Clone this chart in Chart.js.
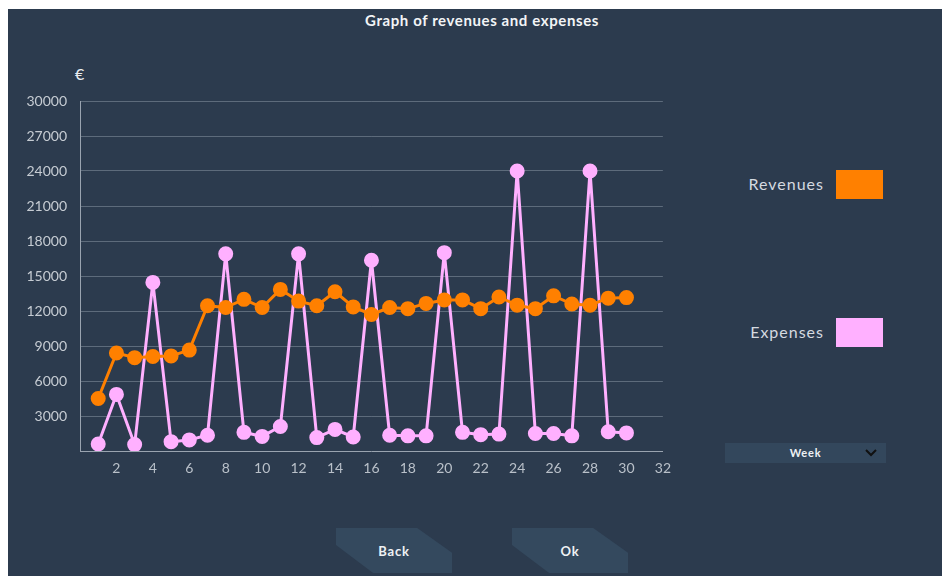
<!DOCTYPE html>
<html>
<head>
<meta charset="utf-8">
<script src="https://cdn.jsdelivr.net/npm/chart.js@4.4.1/dist/chart.umd.min.js"></script>
<style>
    html, body { margin: 0; padding: 0; background: #fff; }
    body { width: 942px; height: 576px; position: relative; overflow: hidden; font-family: Lato, "Noto Sans", sans-serif; }
    .panel { position: absolute; left: 8px; top: 9px; width: 934px; height: 567px; background: #2c3b4e; }
    .title { position: absolute; left: 0; width: 964px; top: 11px; text-align: center; color: #f2f4f6; font-size: 15px; font-weight: bold; letter-spacing: 0.6px; }
    .euro { position: absolute; left: 75px; top: 64px; color: #e8ecf0; font-size: 16px; }
    #box { position: absolute; left: 20px; top: 60px; width: 660px; height: 430px; }
    .leg-label { position: absolute; right: 118px; color: #d5dae0; font-size: 16px; letter-spacing: 1px; }
    .leg-box { position: absolute; left: 836px; width: 47px; height: 29px; }
    .week { position: absolute; left: 725px; top: 443px; width: 161px; height: 20px; background: #33475c; color: #eef1f4; font-size: 11px; font-weight: bold; letter-spacing: 0.8px; line-height: 20px; text-align: center; }
    .week svg { position: absolute; right: 9px; top: 6px; }
    .btn { position: absolute; top: 528px; width: 116px; height: 45px; background: #34495e; color: #eef1f4; font-size: 13px; font-weight: bold; letter-spacing: 0.8px; line-height: 46px; text-align: center;
           clip-path: polygon(0 0, 70% 0, 100% 55%, 100% 100%, 32% 100%, 0 38%); }
</style>
</head>
<body>
<div class="panel"></div>
<div class="title">Graph of revenues and expenses</div>
<div class="euro">€</div>
<div id="box"><canvas id="myChart"></canvas></div>

<div class="leg-label" style="top:174px">Revenues</div>
<div class="leg-box" style="top:170px; background:#ff8000"></div>
<div class="leg-label" style="top:322px">Expenses</div>
<div class="leg-box" style="top:318px; background:#ffb0ff"></div>

<div class="week">Week
    <svg width="12" height="8" viewBox="0 0 12 8"><path d="M1 1 L6 6 L11 1" stroke="#111" stroke-width="2" fill="none"/></svg>
</div>

<div class="btn" style="left:336px">Back</div>
<div class="btn" style="left:512px">Ok</div>

<script>
// --- DATI ---
const giorni = [1, 2, 3, 4, 5, 6, 7, 8, 9, 10, 11, 12, 13, 14, 15, 16, 17, 18, 19, 20, 21, 22, 23, 24, 25, 26, 27, 28, 29, 30];
const revenues = [4500, 8400, 8000, 8100, 8150, 8650, 12450, 12300, 13000, 12300, 13850, 12850, 12450, 13650, 12350,
                  11700, 12300, 12200, 12650, 12950, 12950, 12200, 13200, 12500, 12200, 13300, 12600, 12500, 13100, 13150];
const expenses = [600, 4850, 550, 14450, 800, 950, 1350, 16900, 1600, 1250, 2100, 16900, 1150, 1850, 1200,
                  16350, 1350, 1300, 1300, 17000, 1600, 1400, 1450, 24000, 1500, 1500, 1300, 24000, 1650, 1550];
const yTicks = [3000, 6000, 9000, 12000, 15000, 18000, 21000, 24000, 27000, 30000];
const xTicks = [2, 4, 6, 8, 10, 12, 14, 16, 18, 20, 22, 24, 26, 28, 30, 32];

const ctx = document.getElementById('myChart').getContext('2d');

function serie(values) {
    return giorni.map((g, i) => ({ x: g, y: values[i] }));
}

const tickFont = { family: 'Lato, "Noto Sans", sans-serif', size: 14 };

new Chart(ctx, {
    type: 'line',
    data: {
        datasets: [
            { label: 'Revenues', data: serie(revenues), borderColor: '#ff8000', backgroundColor: '#ff8000',
              borderWidth: 3, borderJoinStyle: 'round', pointRadius: 6, pointHoverRadius: 6, tension: 0 },
            { label: 'Expenses', data: serie(expenses), borderColor: '#ffb0ff', backgroundColor: '#ffb0ff',
              borderWidth: 3, borderJoinStyle: 'round', pointRadius: 6, pointHoverRadius: 6, tension: 0 }
        ]
    },
    options: {
        responsive: true,
        maintainAspectRatio: false,
        animation: false,
        layout: { padding: { top: 41, right: 16, left: 0, bottom: 0 } },
        plugins: { legend: { display: false }, tooltip: { enabled: false } },
        scales: {
            x: {
                type: 'linear',
                min: 0, max: 32,
                afterBuildTicks: axis => { axis.ticks = xTicks.map(v => ({ value: v })); },
                afterFit: axis => { axis.height = 39; },
                grid: { display: false, drawTicks: false },
                border: { color: '#9aa4b0', width: 1 },
                ticks: { color: '#b9c0c9', font: tickFont, padding: 9, callback: v => String(v) }
            },
            y: {
                min: 0, max: 30000,
                afterBuildTicks: axis => { axis.ticks = yTicks.map(v => ({ value: v })); },
                afterFit: axis => { axis.width = 60; },
                grid: { color: '#5d6b7b', lineWidth: 1, drawTicks: false },
                border: { color: '#9aa4b0', width: 1 },
                ticks: { color: '#c6ccd3', font: tickFont, padding: 13, callback: v => String(v) }
            }
        }
    }
});
</script>
</body>
</html>
